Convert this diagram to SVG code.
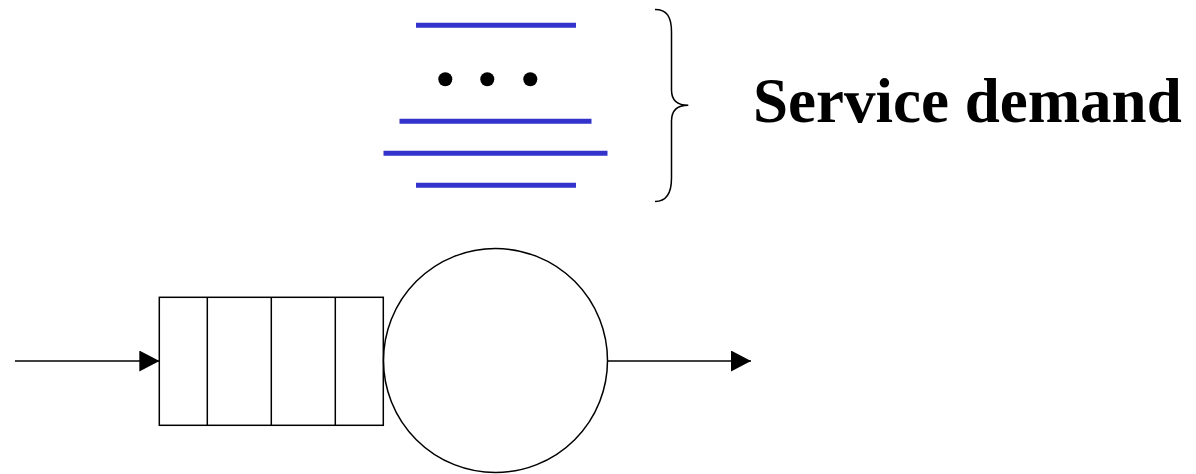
<svg xmlns="http://www.w3.org/2000/svg" width="1196" height="474" viewBox="0 0 1196 474">
  <style>
    .job { stroke: #3333cc; stroke-width: 5; }
    .outline { fill: #ffffff; stroke: #000000; stroke-width: 1.5; }
    .wire { fill: none; stroke: #000000; stroke-width: 1.5; }
    .label { font-family: "Liberation Serif", "Times New Roman", serif; font-weight: bold; font-size: 63px; fill: #000000; }
  </style>
  <defs>
    <marker id="arrow" markerWidth="20" markerHeight="21" refX="20" refY="10.5" orient="auto" markerUnits="userSpaceOnUse">
      <path d="M0,0 L20,10.5 L0,21 Z" fill="#000000"/>
    </marker>
  </defs>
  <rect width="1196" height="474" fill="#ffffff"/>

  <!-- stack of waiting jobs -->
  <g id="jobs">
    <line class="job" x1="416" y1="25.3" x2="576" y2="25.3"/>
    <circle cx="445.3" cy="79.3" r="7" fill="#000000"/>
    <circle cx="487.3" cy="79.3" r="7" fill="#000000"/>
    <circle cx="530.3" cy="79.3" r="7" fill="#000000"/>
    <line class="job" x1="399.5" y1="121.3" x2="591.5" y2="121.3"/>
    <line class="job" x1="383.5" y1="153.3" x2="607.5" y2="153.3"/>
    <line class="job" x1="416" y1="185.3" x2="576" y2="185.3"/>
  </g>

  <!-- curly brace grouping the jobs -->
  <g id="brace">
    <path class="wire" d="M655,9.5 C667,9.5 671.5,17 671.5,32 L671.5,90 C671.5,100 677,105.3 688.3,105.3 C677,105.3 671.5,111 671.5,121 L671.5,178 C671.5,193 667,201.5 655,201.5"/>
  </g>

  <g id="label">
    <text class="label" x="753" y="122">Service demand</text>
  </g>

  <!-- queue buffer -->
  <g id="queue">
    <rect class="outline" x="159.3" y="297.3" width="224" height="128"/>
    <line class="wire" x1="207.3" y1="297.3" x2="207.3" y2="425.3"/>
    <line class="wire" x1="271.3" y1="297.3" x2="271.3" y2="425.3"/>
    <line class="wire" x1="335.3" y1="297.3" x2="335.3" y2="425.3"/>
  </g>

  <!-- server -->
  <g id="server">
    <circle class="outline" cx="495.5" cy="360.5" r="112"/>
  </g>

  <g id="connectors">
    <line class="wire" x1="15" y1="361" x2="159.3" y2="361" marker-end="url(#arrow)"/>
    <line class="wire" x1="607.5" y1="361" x2="751" y2="361" marker-end="url(#arrow)"/>
  </g>
</svg>
